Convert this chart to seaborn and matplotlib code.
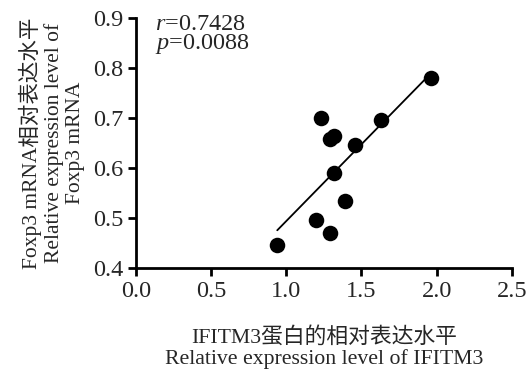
import matplotlib
matplotlib.use("Agg")
import matplotlib.pyplot as plt
import seaborn as sns
import numpy as np

# IFITM3 protein vs Foxp3 mRNA relative expression
ifitm3 = [0.94, 1.23, 1.29, 1.32, 1.46, 1.63, 1.96, 1.32, 1.39, 1.20, 1.29]
foxp3 = [0.445, 0.699, 0.657, 0.663, 0.645, 0.695, 0.779, 0.589, 0.533, 0.495, 0.469]

x_ticks = [0.0, 0.5, 1.0, 1.5, 2.0, 2.5]
y_ticks = [0.4, 0.5, 0.6, 0.7, 0.8, 0.9]

sns.set_theme(style="ticks")
plt.rcParams['font.family'] = ['Liberation Serif', 'Noto Sans CJK SC']
plt.rcParams['mathtext.fontset'] = 'custom'
plt.rcParams['mathtext.rm'] = 'Liberation Serif'
plt.rcParams['mathtext.it'] = 'Liberation Serif:italic'

fig = plt.figure(figsize=(5.27, 3.73), dpi=100)
ax = fig.add_axes([0.258, 0.2815, 0.713, 0.6705])

sns.regplot(x=ifitm3, y=foxp3, ax=ax, ci=None, truncate=True,
            scatter_kws=dict(s=125, color='black', linewidths=0, alpha=1),
            line_kws=dict(color='black', linewidth=1.3))

ax.set_xlim(0, 2.5)
ax.set_ylim(0.4, 0.9)
ax.set_xticks(x_ticks)
ax.set_yticks(y_ticks)
ax.set_xticklabels([f"{v:.1f}" for v in x_ticks], fontsize=17.5)
ax.set_yticklabels([f"{v:.1f}" for v in y_ticks], fontsize=17.5)
ax.tick_params(width=2, length=6, color='black', pad=3)
for s in ['left', 'bottom']:
    ax.spines[s].set_linewidth(2)
    ax.spines[s].set_color('black')
sns.despine(ax=ax)

ax.text(0.05, 1.015, r"$\it{r}$=0.7428" + "\n" + r"$\it{p}$=0.0088",
        transform=ax.transAxes, fontsize=17.5, va='top', ha='left',
        linespacing=0.8)

ax.set_xlabel("IFITM3蛋白的相对表达水平\nRelative expression level of IFITM3",
              fontsize=15.7, linespacing=1.1, labelpad=18)
ax.set_ylabel("Foxp3 mRNA相对表达水平\nRelative expression level of\nFoxp3 mRNA",
              fontsize=15.5, linespacing=1.12, labelpad=6)

fig.savefig("out.png", dpi=100)
